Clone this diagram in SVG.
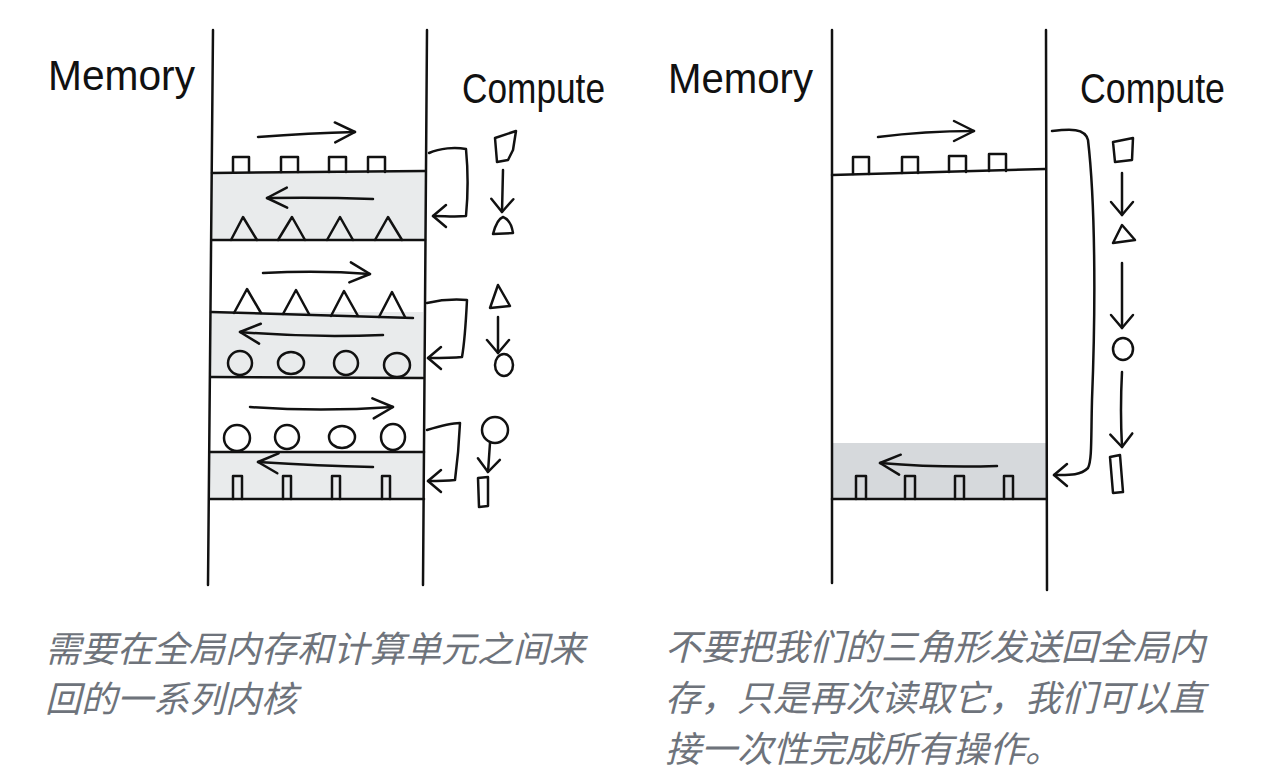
<svg xmlns="http://www.w3.org/2000/svg" width="1268" height="776" viewBox="0 0 1268 776">
<style>
.ln{stroke:#111;stroke-width:2.5;fill:none;stroke-linecap:round;stroke-linejoin:round}
.bandA{fill:#e9ebec}
.bandB{fill:#d6d9dc}
.hand{font-family:"Liberation Sans",sans-serif;font-size:42px;fill:#111}
.cap{font-family:"Noto Sans CJK SC","Noto Sans",sans-serif;font-size:36px;fill:#6e737b;font-style:italic}
</style>
<defs>
<marker id="hb" viewBox="-22 -12 24 24" refX="0" refY="0" markerWidth="24" markerHeight="24" markerUnits="userSpaceOnUse" orient="auto" overflow="visible">
<path d="M-20,-10 L0,0 L-20,10" fill="none" stroke="#111" stroke-width="2.5" stroke-linecap="round" stroke-linejoin="round"/>
</marker>
<marker id="hs" viewBox="-15 -13 17 26" refX="0" refY="0" markerWidth="17" markerHeight="26" markerUnits="userSpaceOnUse" orient="auto" overflow="visible">
<path d="M-13,-11 L0,0 L-13,11" fill="none" stroke="#111" stroke-width="2.5" stroke-linecap="round" stroke-linejoin="round"/>
</marker>
</defs>
<rect width="1268" height="776" fill="#fff"/>

<!-- LEFT DIAGRAM -->
<g id="left-memory">
<rect class="bandA" x="212" y="172" width="213" height="68"/>
<rect class="bandA" x="211" y="312" width="212" height="65"/>
<rect class="bandA" x="210" y="452" width="213" height="47"/>
<path class="ln" d="M213,30 L208,585"/>
<path class="ln" d="M427,30 L423,585"/>
<text class="hand" x="48" y="90" textLength="147" lengthAdjust="spacingAndGlyphs">Memory</text>
</g>

<g id="left-kernel1">
<path class="ln" d="M212,173 L425,171 M212,240 L425,240"/>
<path class="ln" d="M233,172 V157 H249 V172 M281,172 V157 H298 V172 M329,172 V157 H346 V172 M368,172 V157 H385 V172"/>
<path class="ln" d="M231,240 L243,217 L257,240 M278,240 L292,217 L305,240 M327,240 L340,217 L353,240 M375,240 L388,217 L402,240"/>
<path class="ln" d="M258,137 Q310,133 355,132" marker-end="url(#hb)"/>
<path class="ln" d="M373,199 Q320,197 267,198" marker-end="url(#hb)"/>
</g>

<g id="left-kernel2">
<path class="ln" d="M211,312 L413,318 M211,377 L423,378"/>
<path class="ln" d="M234,313 L247,289 L261,313 M283,314 L296,290 L309,314 M331,316 L344,291 L358,316 M379,317 L392,292 L405,317"/>
<ellipse class="ln" cx="240" cy="363" rx="12" ry="12"/>
<ellipse class="ln" cx="291" cy="363" rx="13" ry="11"/>
<ellipse class="ln" cx="346" cy="363" rx="12" ry="12"/>
<ellipse class="ln" cx="397" cy="365" rx="13" ry="12"/>
<path class="ln" d="M263,273 Q320,270 370,274" marker-end="url(#hb)"/>
<path class="ln" d="M383,335 Q310,338 240,332" marker-end="url(#hb)"/>
</g>

<g id="left-kernel3">
<path class="ln" d="M210,452 L424,452 M210,499 L424,499"/>
<ellipse class="ln" cx="237" cy="438" rx="13" ry="13"/>
<ellipse class="ln" cx="287" cy="437" rx="12" ry="12"/>
<ellipse class="ln" cx="342" cy="437" rx="13" ry="11"/>
<ellipse class="ln" cx="393" cy="437" rx="12" ry="13"/>
<path class="ln" d="M233,499 V476 H242 V499 M283,499 V476 H291 V499 M332,499 V476 H340 V499 M382,499 V476 H390 V499"/>
<path class="ln" d="M250,407 Q320,412 393,407" marker-end="url(#hb)"/>
<path class="ln" d="M373,467 Q320,466 258,462" marker-end="url(#hb)"/>
</g>

<g id="left-compute">
<text class="hand" x="462" y="103" textLength="143" lengthAdjust="spacingAndGlyphs">Compute</text>
<path class="ln" d="M495,138 L516,131 L513,150 L508,160 L497,162 Z"/>
<path class="ln" d="M493,234 Q497,219 503,217 Q511,220 513,233 Z"/>
<path class="ln" d="M490,308 L498,285 L510,306 Z"/>
<ellipse class="ln" cx="504" cy="365" rx="9" ry="11"/>
<ellipse class="ln" cx="495" cy="430" rx="13" ry="13"/>
<path class="ln" d="M478,478 L488,477 L488,506 L479,507 Z"/>
</g>

<!-- RIGHT DIAGRAM -->
<g id="right-memory">
<rect class="bandB" x="832" y="443" width="214" height="56"/>
<path class="ln" d="M832,30 L832,583"/>
<path class="ln" d="M1046,30 L1047,590"/>
<text class="hand" x="668" y="93" textLength="145" lengthAdjust="spacingAndGlyphs">Memory</text>
</g>

<g id="right-fused-kernel">
<path class="ln" d="M832,175 L1045,169 M832,499 L1046,499"/>
<path class="ln" d="M853,174 V157 H869 V174 M902,173 V157 H918 V173 M949,172 V156 H966 V172 M989,171 V154 H1006 V171"/>
<path class="ln" d="M856,499 V476 H866 V499 M905,499 V476 H915 V499 M955,499 V476 H964 V499 M1004,499 V476 H1013 V499"/>
<path class="ln" d="M878,137 Q925,131 974,131" marker-end="url(#hb)"/>
<path class="ln" d="M997,466 Q940,468 880,463" marker-end="url(#hb)"/>
</g>

<g id="right-compute">
<text class="hand" x="1080" y="103" textLength="145" lengthAdjust="spacingAndGlyphs">Compute</text>
<path class="ln" d="M1113,142 L1133,138 L1132,160 L1115,162 Z"/>
<path class="ln" d="M1113,243 L1122,225 L1135,240 Z"/>
<ellipse class="ln" cx="1123" cy="349" rx="10" ry="11"/>
<path class="ln" d="M1110,457 L1120,455 L1123,492 L1113,493 Z"/>
</g>

<g id="connectors">
<path class="ln" d="M429,153 C440,148 455,147 466,149 C468,170 468,195 466,216 C455,217 445,216 433,216" marker-end="url(#hs)"/>
<path class="ln" d="M427,303 C440,300 455,299 467,300 C466,320 465,340 462,357 C452,358 440,358 428,358" marker-end="url(#hs)"/>
<path class="ln" d="M427,430 C440,426 452,423 460,423 C459,445 457,465 455,480 C445,481 437,481 428,481" marker-end="url(#hs)"/>
<path class="ln" d="M503,170 L502,212" marker-end="url(#hs)"/>
<path class="ln" d="M498,317 L498,353" marker-end="url(#hs)"/>
<path class="ln" d="M490,443 L488,472" marker-end="url(#hs)"/>
<path class="ln" d="M1052,131 C1070,129 1085,128 1088,140 C1095,200 1096,300 1092,400 C1091,440 1092,460 1088,468 C1080,476 1068,475 1054,475" marker-end="url(#hs)"/>
<path class="ln" d="M1122,173 L1122,215" marker-end="url(#hs)"/>
<path class="ln" d="M1122,263 L1122,328" marker-end="url(#hs)"/>
<path class="ln" d="M1122,372 Q1120,410 1122,447" marker-end="url(#hs)"/>
</g>

<g id="captions">
<text class="cap" x="45" y="662">需要在全局内存和计算单元之间来</text>
<text class="cap" x="45" y="712">回的一系列内核</text>
<text class="cap" x="665" y="660">不要把我们的三角形发送回全局内</text>
<text class="cap" x="665" y="711">存，只是再次读取它，我们可以直</text>
<text class="cap" x="665" y="762">接一次性完成所有操作。</text>
</g>
</svg>
